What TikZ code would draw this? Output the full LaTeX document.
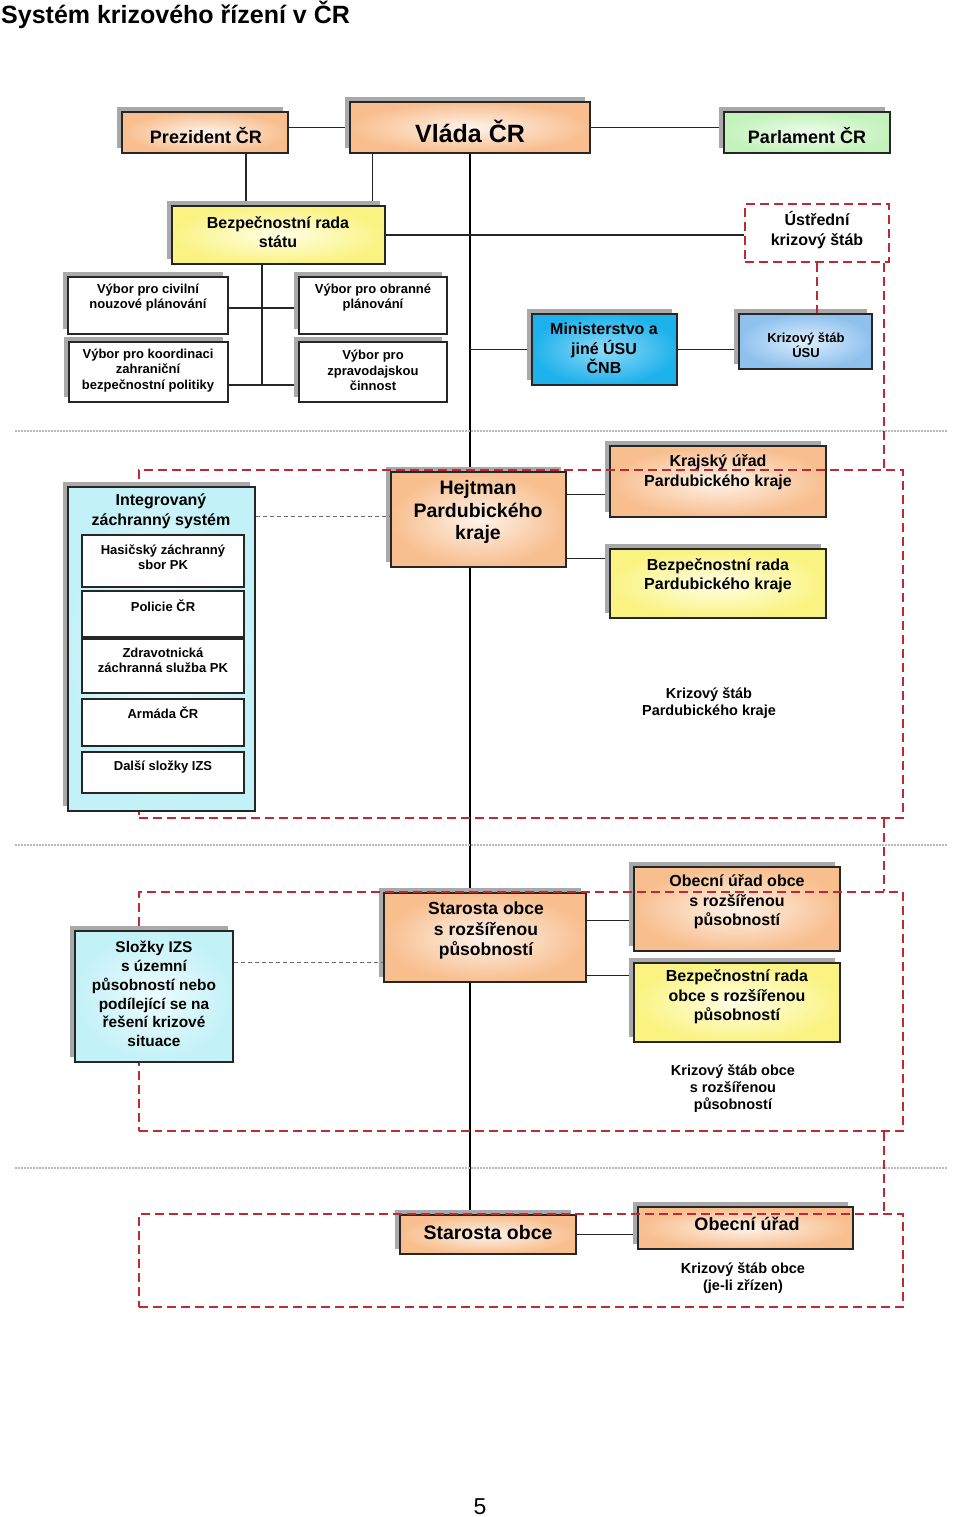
\documentclass[tikz,border=0pt]{standalone}
\usepackage{fontspec}
\setmainfont{Liberation Sans}
\usepackage{xcolor}
\usepackage{tikz}
\usetikzlibrary{positioning, shadows, backgrounds}

\definecolor{orgout}{HTML}{F8BE8E}
\definecolor{orgin}{HTML}{FEF3EA}
\definecolor{yelout}{HTML}{FAF382}
\definecolor{yelin}{HTML}{FFFFE6}
\definecolor{grnout}{HTML}{C4F2BC}
\definecolor{grnin}{HTML}{EEFCEB}
\definecolor{bluout}{HTML}{1EB2EC}
\definecolor{bluin}{HTML}{90DAF7}
\definecolor{ltbout}{HTML}{8FC1EE}
\definecolor{ltbin}{HTML}{DDEEFC}
\definecolor{cyaout}{HTML}{C2F1F7}
\definecolor{cyain}{HTML}{EDFCFE}
\definecolor{redframe}{HTML}{C02836}
\definecolor{shadowgray}{HTML}{A9A9A9}

\begin{document}
\begin{tikzpicture}[x=1pt, y=-1pt,
    box/.style={draw=black!85, line width=1.3pt, rectangle, inner sep=0pt,
      drop shadow={shadow xshift=-5pt, shadow yshift=5pt, fill=shadowgray, opacity=1}},
    orangebox/.style={box, inner color=orgin, outer color=orgout},
    yellowbox/.style={box, inner color=yelin, outer color=yelout},
    greenbox/.style={box, inner color=grnin, outer color=grnout},
    bluebox/.style={box, inner color=bluin, outer color=bluout},
    ltbluebox/.style={box, inner color=ltbin, outer color=ltbout},
    cyanbox/.style={box, inner color=cyain, outer color=cyaout},
    whitebox/.style={box, fill=white},
    innerbox/.style={draw=black!85, line width=1.3pt, rectangle, fill=white, inner sep=0pt},
    reddash/.style={draw=redframe, line width=1.8pt, dash pattern=on 9pt off 5pt},
    frame/.style={reddash, rectangle, inner sep=0pt},
    link/.style={draw=black!85, line width=1.1pt},
    mainline/.style={draw=black, line width=1.8pt},
    graydash/.style={draw=gray!85!black, line width=1.1pt, dash pattern=on 4pt off 3pt},
    sep/.style={draw=gray!55, line width=1.5pt, dash pattern=on 1.5pt off 1.5pt},
    txt/.style={inner sep=0pt, align=center},
    t25/.style={txt, font=\fontsize{25}{30}\selectfont\bfseries},
    t19/.style={txt, font=\fontsize{19.5}{22.5}\selectfont\bfseries},
    t18/.style={txt, font=\fontsize{18}{21}\selectfont\bfseries},
    t17/.style={txt, font=\fontsize{17.5}{20.5}\selectfont\bfseries},
    t16/.style={txt, font=\fontsize{16}{19.5}\selectfont\bfseries},
    t15/.style={txt, font=\fontsize{15.4}{18.8}\selectfont\bfseries},
    t14/.style={txt, font=\fontsize{14.5}{17}\selectfont\bfseries},
    t13/.style={txt, font=\fontsize{13}{15.5}\selectfont\bfseries}]
        \useasboundingbox (0,0) rectangle (960,1517);
        % Title
        \node[txt, font=\fontsize{25}{30}\selectfont\bfseries, anchor=base west] (title) at (1,24) {Systém krizového řízení v ČR};
        % Level separators
        \foreach \y in {431,845,1168} {\draw[sep] (15,\y) -- (948,\y);}
        % State level
        \node[orangebox, minimum width=166pt, minimum height=41pt] (prez) at (205,132.5) {};
        \node[t18, anchor=base] (prez-t) at (206,144) {Prezident ČR};
        \node[orangebox, minimum width=240pt, minimum height=51pt] (vlada) at (470,127.5) {};
        \node[t25, anchor=base] (vlada-t) at (470,143) {Vláda ČR};
        \node[greenbox, minimum width=166pt, minimum height=41pt] (parl) at (807,132.5) {};
        \node[t18, anchor=base] (parl-t) at (807,144) {Parlament ČR};
        \node[yellowbox, minimum width=213pt, minimum height=58pt] (brs) at (278.5,235) {};
        \node[t16] (brs-t) at (278,232) {Bezpečnostní rada\\státu};
        \node[reddash, rectangle, minimum width=144pt, minimum height=58pt] (ust) at (817,233) {};
        \node[t16] (ust-t) at (817,230) {Ústřední\\krizový štáb};
        % Committees of the security council
        \node[whitebox, minimum width=160pt, minimum height=57pt] (civ) at (148,305.5) {};
        \node[t13] (civ-t) at (148,297.5) {Výbor pro civilní\\nouzové plánování};
        \node[whitebox, minimum width=159pt, minimum height=60pt] (koord) at (148.5,372) {};
        \node[t13] (koord-t) at (148,370.5) {Výbor pro koordinaci\\zahraniční\\bezpečnostní politiky};
        \node[whitebox, minimum width=148pt, minimum height=57pt] (obr) at (373,305.5) {};
        \node[t13] (obr-t) at (373,297.5) {Výbor pro obranné\\plánování};
        \node[whitebox, minimum width=148pt, minimum height=60pt] (zprav) at (373,372) {};
        \node[t13] (zprav-t) at (373,370.5) {Výbor pro\\zpravodajskou\\činnost};
        % Ministries
        \node[bluebox, minimum width=145pt, minimum height=71pt] (min) at (604.5,349.5) {};
        \node[t16] (min-t) at (604,348.5) {Ministerstvo a\\jiné ÚSU\\ČNB};
        \node[ltbluebox, minimum width=133pt, minimum height=55pt] (usu) at (805.5,341.5) {};
        \node[t13] (usu-t) at (806,345) {Krizový štáb\\ÚSU};
        % Region level
        \node[orangebox, minimum width=175pt, minimum height=95pt] (hejt) at (478.5,519.5) {};
        \node[t19] (hejt-t) at (478,512) {Hejtman\\Pardubického\\kraje};
        \node[orangebox, minimum width=216pt, minimum height=71pt] (kru) at (718,481.5) {};
        \node[t16] (kru-t) at (718,472) {Krajský úřad\\Pardubického kraje};
        \node[yellowbox, minimum width=216pt, minimum height=69pt] (brk) at (718,583.5) {};
        \node[t16] (brk-t) at (718,575.5) {Bezpečnostní rada\\Pardubického kraje};
        \node[t14] (kspk) at (709,703.5) {Krizový štáb\\Pardubického kraje};
        % ORP level
        \node[orangebox, minimum width=202pt, minimum height=89pt] (sorp) at (485,937.5) {};
        \node[t17] (sorp-t) at (486,930.5) {Starosta obce\\s rozšířenou\\působností};
        \node[orangebox, minimum width=206pt, minimum height=84pt] (oorp) at (737,909) {};
        \node[t16] (oorp-t) at (737,902) {Obecní úřad obce\\s rozšířenou\\působností};
        \node[yellowbox, minimum width=206pt, minimum height=79pt] (borp) at (737,1002.5) {};
        \node[t16] (borp-t) at (737,997) {Bezpečnostní rada\\obce s rozšířenou\\působností};
        \node[t14] (ksorp) at (733,1089) {Krizový štáb obce\\s rozšířenou\\působností};
        % Municipality level
        \node[orangebox, minimum width=176pt, minimum height=39pt] (sta) at (488,1234.5) {};
        \node[t19, anchor=base] (sta-t) at (488,1239) {Starosta obce};
        \node[orangebox, minimum width=215pt, minimum height=42pt] (obu) at (745.5,1228) {};
        \node[t18, anchor=base] (obu-t) at (747,1230) {Obecní úřad};
        \node[t14] (ksob) at (743,1278.5) {Krizový štáb obce\\(je-li zřízen)};
        % Crisis staff frames
        \node[frame, minimum width=764pt, minimum height=348pt] (krajframe) at (521,644) {};
        \node[frame, minimum width=764pt, minimum height=239pt] (orpframe) at (521,1011.5) {};
        \node[frame, minimum width=764pt, minimum height=93pt] (obecframe) at (521,1260.5) {};
        \coordinate (rx) at (884,0);
        \draw[reddash] (ust.south) -- (ust.south |- usu.north);
        \draw[reddash] (ust.south -| rx) -- (krajframe.north -| rx);
        \draw[reddash] (krajframe.south -| rx) -- (orpframe.north -| rx);
        \draw[reddash] (orpframe.south -| rx) -- (obecframe.north -| rx);
        % IZS
        \node[cyanbox, minimum width=187pt, minimum height=324pt] (izs) at (161.5,649) {};
        \node[t16] (izs-t) at (161,511.5) {Integrovaný\\záchranný systém};
        \node[innerbox, minimum width=162pt, minimum height=52pt] (has) at (163,561) {};
        \node[t13] (has-t) at (163,557) {Hasičský záchranný\\sbor PK};
        \node[innerbox, minimum width=162pt, minimum height=46pt] (pol) at (163,614) {};
        \node[t13] (pol-t) at (163,606) {Policie ČR};
        \node[innerbox, minimum width=162pt, minimum height=54pt] (zdr) at (163,666) {};
        \node[t13] (zdr-t) at (163,660.5) {Zdravotnická\\záchranná služba PK};
        \node[innerbox, minimum width=162pt, minimum height=47pt] (arm) at (163,722.5) {};
        \node[t13] (arm-t) at (163,713) {Armáda ČR};
        \node[innerbox, minimum width=162pt, minimum height=41pt] (dal) at (163,772.5) {};
        \node[t13] (dal-t) at (163,767) {Další složky IZS};
        \node[cyanbox, minimum width=158pt, minimum height=131pt] (slo) at (154,996.5) {};
        \node[t15] (slo-t) at (154,994) {Složky IZS\\s územní\\působností nebo\\podílející se na\\řešení krizové\\situace};
        \draw[graydash] ([yshift=-30pt]izs.north east) -- ([yshift=-30pt]izs.north east -| hejt.west);
        \draw[graydash] ([yshift=-32pt]slo.north east) -- ([yshift=-32pt]slo.north east -| sorp.west);
        % Page number
        \node[inner sep=0pt, font=\fontsize{23}{27}\selectfont, anchor=base] (page) at (480,1514) {5};
        % Connectors
        \coordinate (vyb) at (262,385);
        \begin{scope}[on background layer]
        \draw[mainline] (vlada.south) -- (vlada.south |- sta.north);
        \draw[link] (prez.east |- vlada.west) -- (vlada.west);
        \draw[link] (vlada.east) -- (vlada.east -| parl.west);
        \draw[link] ([xshift=41pt]prez.south) -- ([xshift=41pt]prez.south |- brs.north);
        \draw[link] ([xshift=23pt]vlada.south west) -- ([xshift=23pt]vlada.south west |- brs.north);
        \draw[link] (brs.east) -- (brs.east -| ust.west);
        \draw[link] (brs.south -| vyb) -- (vyb);
        \draw[link] ([yshift=-2.5pt]civ.east) -- ([yshift=-2.5pt]civ.east -| obr.west);
        \draw[link] (vyb -| koord.east) -- (vyb -| zprav.west);
        \draw[link] (min.west -| vlada.south) -- (min.west);
        \draw[link] (min.east) -- (min.east -| usu.west);
        \draw[link] ([yshift=-23pt]hejt.north east) -- ([yshift=-23pt]hejt.north east -| kru.west);
        \draw[link] ([yshift=9pt]hejt.south east) -- ([yshift=9pt]hejt.south east -| brk.west);
        \draw[link] ([yshift=-28pt]sorp.north east) -- ([yshift=-28pt]sorp.north east -| oorp.west);
        \draw[link] ([yshift=7pt]sorp.south east) -- ([yshift=7pt]sorp.south east -| borp.west);
        \draw[link] (sta.east) -- (sta.east -| obu.west);
        \end{scope}
      \end{tikzpicture}
\end{document}
